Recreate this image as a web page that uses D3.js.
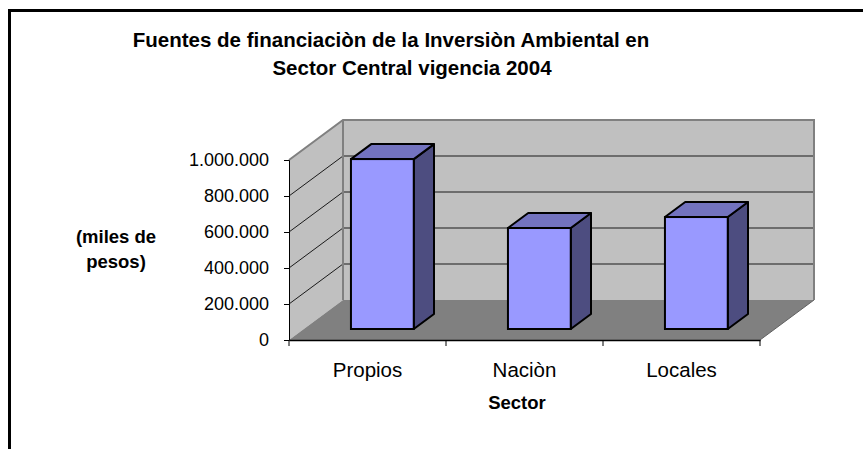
<!DOCTYPE html>
<html>
<head>
<meta charset="utf-8">
<script src="https://cdn.jsdelivr.net/npm/d3@7"></script>
<style>
  body { margin: 0; background: #fff; }
  text { font-family: "Liberation Sans", Arial, sans-serif; fill: #000; }
</style>
</head>
<body>
<script>
// data
var sectores = ["Propios", "Naciòn", "Locales"];
var valores = [944000, 561000, 622000];
var yTicks = [0, 200000, 400000, 600000, 800000, 1000000];
var titulo = ["Fuentes de financiaciòn de la Inversiòn Ambiental en", "Sector Central vigencia 2004"];
var yTitulo = ["(miles de", "pesos)"];
var xTitulo = "Sector";

var W = 863, H = 449;
var depth = { dx: 54, dy: -40 };   // floor depth offset
var f1 = 0.275, f2 = 0.65;         // bar front/back position in the depth

var svg = d3.select("body").append("svg")
  .attr("width", W)
  .attr("height", H);

var x = d3.scaleBand().domain(sectores).range([289, 760]);
var y = d3.scaleLinear().domain([0, 1000000]).range([340, 160]);
var fmt = d3.formatLocale({ decimal: ",", thousands: ".", grouping: [3], currency: ["$", ""] }).format(",d");

var x0 = x.range()[0], x1 = x.range()[1];
var yb = y(0), yt = y(1000000);

function pts(a) { return a.map(function(p) { return p.join(","); }).join(" "); }

// outer frame (only top and left edges show)
svg.append("rect")
  .attr("x", 9.5).attr("y", 10.5)
  .attr("width", 1000).attr("height", 1000)
  .attr("fill", "none").attr("stroke", "#000").attr("stroke-width", 3);

// walls
svg.append("polygon")
  .attr("points", pts([[x0, yb], [x0, yt], [x0 + depth.dx, yt + depth.dy], [x0 + depth.dx, yb + depth.dy]]))
  .attr("fill", "#c0c0c0");
svg.append("polygon")
  .attr("points", pts([[x0 + depth.dx, yt + depth.dy], [x1 + depth.dx, yt + depth.dy], [x1 + depth.dx, yb + depth.dy], [x0 + depth.dx, yb + depth.dy]]))
  .attr("fill", "#c0c0c0");
// floor
svg.append("polygon")
  .attr("points", pts([[x0, yb], [x1, yb], [x1 + depth.dx, yb + depth.dy], [x0 + depth.dx, yb + depth.dy]]))
  .attr("fill", "#808080");
svg.append("line")
  .attr("x1", x1).attr("y1", yb).attr("x2", x1 + depth.dx).attr("y2", yb + depth.dy)
  .attr("stroke", "#606060").attr("stroke-width", 1);

// gridlines
var inner = yTicks.filter(function(t) { return t > 0 && t < 1000000; });
svg.selectAll("line.grid").data(inner).enter().append("line")
  .attr("class", "grid")
  .attr("x1", x0 + depth.dx).attr("x2", x1 + depth.dx)
  .attr("y1", function(d) { return y(d) + depth.dy; })
  .attr("y2", function(d) { return y(d) + depth.dy; })
  .attr("stroke", "#1a1a1a").attr("stroke-width", 1);
svg.selectAll("line.gridl").data(inner).enter().append("line")
  .attr("class", "gridl")
  .attr("x1", x0).attr("y1", function(d) { return y(d); })
  .attr("x2", x0 + depth.dx).attr("y2", function(d) { return y(d) + depth.dy; })
  .attr("stroke", "#1a1a1a").attr("stroke-width", 1);

// wall outlines
svg.append("polyline")
  .attr("points", pts([[x0, yt], [x0 + depth.dx, yt + depth.dy], [x1 + depth.dx, yt + depth.dy], [x1 + depth.dx, yb + depth.dy]]))
  .attr("fill", "none").attr("stroke", "#808080").attr("stroke-width", 2);
svg.append("line")
  .attr("x1", x0 + depth.dx).attr("y1", yt + depth.dy)
  .attr("x2", x0 + depth.dx).attr("y2", yb + depth.dy)
  .attr("stroke", "#808080").attr("stroke-width", 2);

// axes
var yAxis = d3.axisLeft(y).tickValues(yTicks).tickFormat(fmt).tickSize(5).tickPadding(15);
var gy = svg.append("g").attr("transform", "translate(" + x0 + ",0)").call(yAxis);
gy.select(".domain").attr("stroke", "#000");
gy.selectAll("text").style("font-size", "18px").attr("font-family", null);

var xAxis = d3.axisBottom(x).tickSize(0).tickPadding(22);
var gx = svg.append("g").attr("transform", "translate(0," + yb + ")").call(xAxis);
gx.select(".domain").attr("stroke", "#000").attr("stroke-width", 1.5);
gx.selectAll("text").style("font-size", "20.5px").attr("font-family", null);
gx.selectAll("line.sep").data(d3.range(sectores.length + 1)).enter().append("line")
  .attr("class", "sep")
  .attr("x1", function(i) { return x0 + i * x.bandwidth(); })
  .attr("x2", function(i) { return x0 + i * x.bandwidth(); })
  .attr("y1", 0).attr("y2", 6)
  .attr("stroke", "#000");

// bars
var bw = x.bandwidth() * 0.4;
var ox1 = depth.dx * f1, oy1 = depth.dy * f1;
var ox2 = depth.dx * f2, oy2 = depth.dy * f2;
var bars = svg.selectAll("g.bar").data(valores).enter().append("g").attr("class", "bar");
function bx(d, i) { return x(sectores[i]) + x.bandwidth() * 0.3 + ox1; }
bars.append("polygon")  // side
  .attr("points", function(d, i) {
    var l = bx(d, i) + bw, t = y(d) + oy1, b = y(0) + oy1, ddx = ox2 - ox1, ddy = oy2 - oy1;
    return pts([[l, b], [l, t], [l + ddx, t + ddy], [l + ddx, b + ddy]]);
  })
  .attr("fill", "#4d4d80").attr("stroke", "#000").attr("stroke-width", 2).attr("stroke-linejoin", "round");
bars.append("polygon")  // top
  .attr("points", function(d, i) {
    var l = bx(d, i), t = y(d) + oy1, ddx = ox2 - ox1, ddy = oy2 - oy1;
    return pts([[l, t], [l + bw, t], [l + bw + ddx, t + ddy], [l + ddx, t + ddy]]);
  })
  .attr("fill", "#7373bf").attr("stroke", "#000").attr("stroke-width", 2).attr("stroke-linejoin", "round");
bars.append("rect")  // front
  .attr("x", bx)
  .attr("y", function(d) { return y(d) + oy1; })
  .attr("width", bw)
  .attr("height", function(d) { return y(0) - y(d); })
  .attr("fill", "#9999ff").attr("stroke", "#000").attr("stroke-width", 2);

// titles
svg.selectAll("text.title").data(titulo).enter().append("text")
  .attr("class", "title")
  .attr("x", function(d, i) { return i === 0 ? 391 : 412; })
  .attr("y", function(d, i) { return 47 + i * 28; })
  .attr("text-anchor", "middle")
  .style("font-size", "20.5px").style("font-weight", "bold")
  .text(function(d) { return d; });

svg.selectAll("text.ytitle").data(yTitulo).enter().append("text")
  .attr("class", "ytitle")
  .attr("x", 116)
  .attr("y", function(d, i) { return 243 + i * 25; })
  .attr("text-anchor", "middle")
  .style("font-size", "18.5px").style("font-weight", "bold")
  .text(function(d) { return d; });

svg.append("text")
  .attr("x", 517).attr("y", 409)
  .attr("text-anchor", "middle")
  .style("font-size", "18.5px").style("font-weight", "bold")
  .text(xTitulo);
</script>
</body>
</html>
